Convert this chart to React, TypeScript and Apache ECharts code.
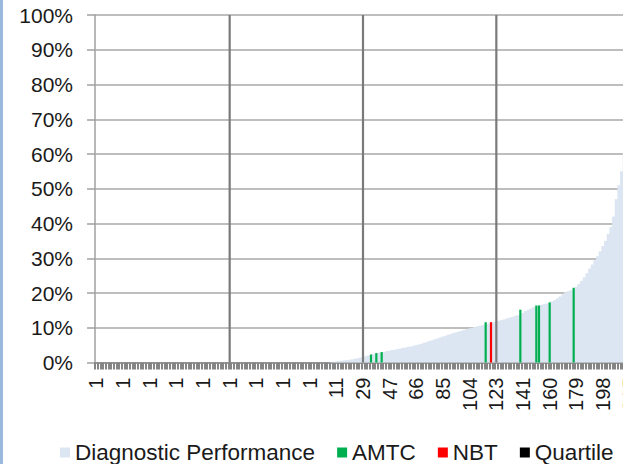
import React, { useEffect, useRef } from "react";
import * as echarts from "echarts";

// Diagnostic performance (%) per ranked entity, ascending
const performance: number[] = [
  0, 0, 0, 0, 0, 0, 0, 0, 0, 0,
  0, 0, 0, 0, 0, 0, 0, 0, 0, 0,
  0, 0, 0, 0, 0, 0, 0, 0, 0, 0,
  0, 0, 0, 0, 0, 0, 0, 0, 0, 0,
  0, 0, 0, 0, 0, 0, 0, 0, 0, 0,
  0, 0, 0, 0, 0, 0, 0, 0, 0, 0,
  0, 0, 0, 0, 0, 0, 0, 0, 0, 0,
  0, 0, 0, 0, 0, 0, 0, 0, 0, 0,
  0, 0, 0, 0, 0, 0, 0, 0, 0.1, 0.2,
  0.3, 0.4, 0.5, 0.6, 0.7, 0.8, 0.9, 1.1, 1.2, 1.4,
  1.5, 1.8, 2.0, 2.2, 2.4, 2.6, 2.8, 2.9, 3.1, 3.3,
  3.4, 3.6, 3.7, 3.9, 4.0, 4.2, 4.3, 4.5, 4.6, 4.8,
  5.0, 5.2, 5.4, 5.7, 5.9, 6.2, 6.4, 6.7, 6.9, 7.2,
  7.5, 7.7, 8.0, 8.2, 8.5, 8.7, 8.9, 9.1, 9.4, 9.6,
  9.8, 10.0, 10.2, 10.4, 10.6, 10.8, 11.0, 11.2, 11.4, 11.6,
  11.8, 12.0, 12.2, 12.4, 12.7, 12.9, 13.1, 13.4, 13.6, 13.9,
  14.3, 14.8, 15.2, 15.5, 15.9, 16.2, 16.4, 16.6, 16.8, 17.0,
  17.2, 17.6, 18.0, 18.5, 19.0, 19.6, 20.2, 20.5, 20.8, 21.1,
  21.8, 22.6, 23.5, 24.5, 25.7, 27.0, 28.2, 29.4, 30.6, 32.0,
  33.5, 35.0, 37.0, 39.0, 42.0, 47.0, 51.0, 55.0, 60.0, 68.0,
  80.0,
];

// Tick labels shown every 10th category
const rankLabels: string[] = [
  "1", "1", "1", "1", "1", "1", "1", "1", "1", "11", "29",
  "47", "66", "85", "104", "123", "141", "160", "179", "198", "215",
];

const amtcIndex: number[] = [103, 105, 107, 146, 159, 165, 166, 170, 179];
const amtcValues: number[] = [2.3, 2.7, 3.0, 11.6, 15.2, 16.4, 16.4, 17.3, 21.5];

const nbtIndex: number[] = [148];
const nbtValues: number[] = [11.6];

const quartileIndex: number[] = [50, 100, 150];
const quartileValues: number[] = [100, 100, 100];

const FONT = "'Liberation Sans', Arial, sans-serif";

export default function App() {
  const ref = useRef<HTMLDivElement>(null);

  useEffect(() => {
    if (!ref.current) return;
    const chart = echarts.init(ref.current, undefined, { renderer: "svg" });
    const categories = performance.map((_, i) => String(i));
    const pairs = (idx: number[], vals: number[]) => idx.map((x, k) => [x, vals[k]]);

    chart.setOption({
      animation: false,
      backgroundColor: "#ffffff",
      textStyle: { fontFamily: FONT },
      graphic: [
        {
          type: "rect",
          left: 0,
          top: 0,
          shape: { width: 3, height: 464 },
          style: { fill: "#9cb8dc" },
          z: 100,
        },
      ],
      legend: {
        left: 55,
        top: 436,
        itemWidth: 10,
        itemHeight: 10,
        itemGap: 22,
        icon: "rect",
        textStyle: { fontSize: 22.5, color: "#1a1a1a", fontFamily: FONT },
        data: [
          { name: "Diagnostic Performance" },
          { name: "AMTC" },
          { name: "NBT" },
          { name: "Quartile", itemStyle: { color: "#000000" } },
        ],
      },
      grid: {
        left: 95,
        right: -8,
        top: 15,
        bottom: 101.5,
        containLabel: false,
        outerBoundsMode: "none",
      },
      xAxis: [
        {
          type: "category",
          data: categories,
          axisLine: { show: true, lineStyle: { color: "#8c8c8c", width: 1.5 } },
          axisTick: {
            show: true,
            interval: 0,
            length: 7,
            lineStyle: { color: "#858585", width: 2 },
          },
          axisLabel: {
            interval: (index: number) => index % 10 === 0,
            rotate: 90,
            margin: 15,
            fontSize: 20,
            color: "#1a1a1a",
            fontFamily: FONT,
            formatter: (_v: string, index: number) => rankLabels[index / 10] ?? "",
          },
          splitLine: { show: false },
        },
        {
          type: "category",
          data: categories,
          show: false,
        },
      ],
      yAxis: {
        type: "value",
        min: 0,
        max: 100,
        interval: 10,
        axisLine: { show: true, lineStyle: { color: "#a0a0a0", width: 1.5 } },
        axisTick: { show: true, length: 8, lineStyle: { color: "#a0a0a0", width: 1.5 } },
        axisLabel: {
          formatter: "{value}%",
          fontSize: 21,
          margin: 22,
          color: "#1a1a1a",
          fontFamily: FONT,
        },
        splitLine: { show: true, lineStyle: { color: "#a8a8a8", width: 1.5 } },
      },
      series: [
        {
          name: "Diagnostic Performance",
          type: "bar",
          xAxisIndex: 0,
          data: performance,
          barWidth: 3.2,
          itemStyle: { color: "#dce6f2" },
          z: 2,
        },
        {
          name: "AMTC",
          type: "bar",
          xAxisIndex: 1,
          data: pairs(amtcIndex, amtcValues),
          barWidth: 2.2,
          barGap: "-100%",
          itemStyle: { color: "#00b050" },
          z: 3,
        },
        {
          name: "NBT",
          type: "bar",
          xAxisIndex: 1,
          data: pairs(nbtIndex, nbtValues),
          barWidth: 2.2,
          barGap: "-100%",
          itemStyle: { color: "#ff0000" },
          z: 3,
        },
        {
          name: "Quartile",
          type: "bar",
          xAxisIndex: 1,
          data: pairs(quartileIndex, quartileValues),
          barWidth: 2.2,
          barGap: "-100%",
          itemStyle: { color: "#7a7a7a" },
          z: 3,
        },
      ],
    });

    return () => chart.dispose();
  }, []);

  return (
    <div
      ref={ref}
      style={{ position: "absolute", left: 0, top: 0, width: 623, height: 464 }}
    />
  );
}
